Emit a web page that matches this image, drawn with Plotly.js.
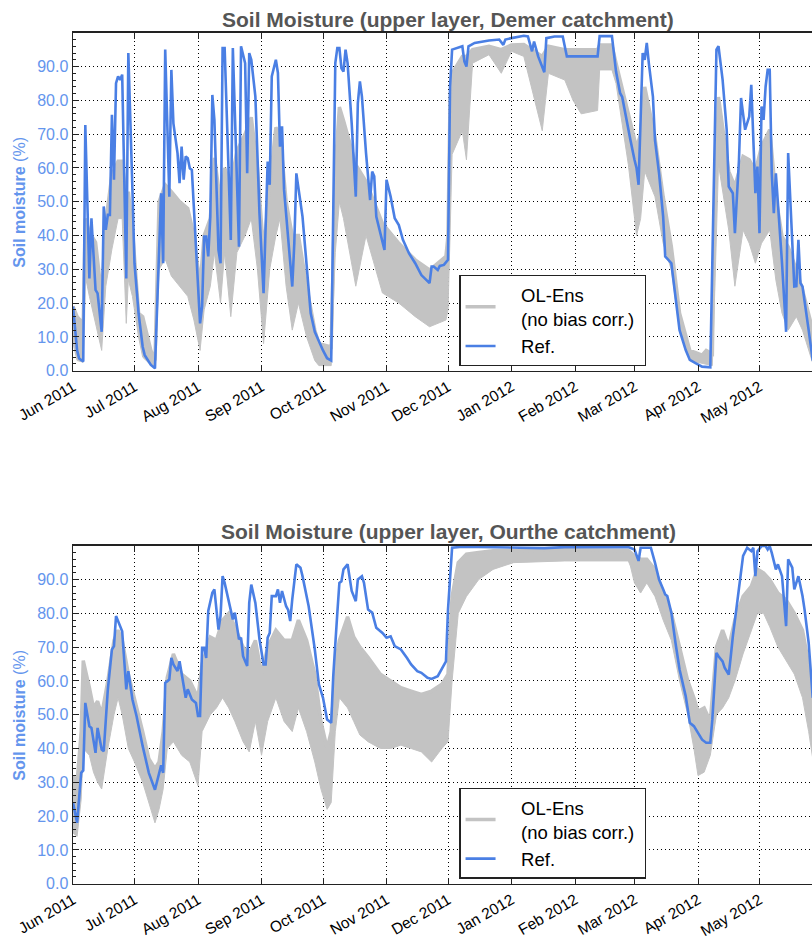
<!DOCTYPE html>
<html>
<head>
<meta charset="utf-8">
<script src="https://cdn.plot.ly/plotly-3.0.1.min.js"></script>
<style>
html, body { margin: 0; padding: 0; overflow: hidden; background: #fff; }
#chart { width: 823px; height: 938px; }
</style>
</head>
<body>
<div id="chart"></div>
<script>
// ---------- DATA (x = days since 1 Jun 2011) ----------
const monthTickDays   = [0, 30, 61, 92, 122, 153, 183, 214, 245, 274, 305, 335];
const monthTickLabels = ['Jun 2011', 'Jul 2011', 'Aug 2011', 'Sep 2011', 'Oct 2011', 'Nov 2011',
                         'Dec 2011', 'Jan 2012', 'Feb 2012', 'Mar 2012', 'Apr 2012', 'May 2012'];
const yTickVals = [0, 10, 20, 30, 40, 50, 60, 70, 80, 90];

// Demer catchment - reference
const demerRefDay = [
  0, 2, 3, 5, 6, 8, 9, 10, 11, 12, 14, 15, 16, 17, 18, 19, 20, 21, 22, 23, 24, 26, 27, 29, 30,
  32, 34, 35, 38, 40, 42, 43, 44, 45, 47, 48, 49, 51, 52, 53, 54, 55, 56, 57, 58, 59, 60,
  62, 63, 64, 65, 66, 67, 68, 69, 71, 72, 73, 74, 77, 78, 81, 82, 84, 85, 86, 87, 89, 91,
  93, 94, 95, 96, 97, 99, 100, 101, 102, 103, 105, 107, 108, 109, 112, 114, 116, 118, 120,
  122, 124, 126, 128, 129, 130, 131, 132, 133, 134, 136, 138, 139, 140, 141, 143, 145, 146,
  147, 148, 150, 152, 153, 155, 157, 159, 161, 164, 167, 170, 174, 175, 176, 178, 179, 181,
  183, 184, 185, 190, 191, 192, 193, 196, 203, 208, 210, 211, 214, 220, 222, 224, 225, 227,
  230, 231, 235, 239, 241, 256, 257, 263, 265, 267, 268, 270, 272, 274, 275, 276, 277, 278,
  279, 280, 281, 283, 284, 286, 288, 289, 292, 294, 296, 299, 301, 304, 307, 311, 314, 315,
  317, 319, 320, 322, 323, 325, 326, 328, 330, 331, 333, 334, 335, 336, 337, 338, 339, 340,
  341, 342, 343, 346, 348, 349, 352, 353, 354, 355, 356, 359, 361];
const demerRefVal = [
  19, 6, 3.6, 2.7, 72.7, 27.3, 45.1, 32.8, 23.9, 22.9, 11.5, 48.6, 41.7, 46.1, 46.1, 75.7, 56.5, 85.1, 87.1, 86.1, 87.6, 27.3, 94, 53.5, 31.8,
  17, 7.1, 4.6, 1.7, 0.7, 31.8, 52.5, 31.8, 95, 51.5, 89, 73.2, 64.4, 55.5, 66.3, 56.5, 63.4, 62.9, 59.9, 59.4, 45.6, 36.7,
  14, 19, 39.7, 39.7, 33.8, 45.6, 81.6, 74.2, 35.7, 31.8, 95.5, 95.5, 38.7, 95.5, 36.7, 96, 91, 58.4, 94, 92, 81.1, 46.6,
  22.9, 43.6, 61.9, 55, 87.1, 92, 88.1, 66.3, 72.3, 53.5, 39.7, 24.9, 37.7, 58.4, 45.6, 31.8, 17, 11.5, 8.5,
  6, 3.7, 3, 91, 95.5, 95.5, 89.5, 88.5, 95, 91, 73.2, 51.5, 79.2, 85.6, 81.1, 64.4, 50.5, 58.9,
  57.5, 45.6, 41, 35.7, 56.5, 51.5, 45.1, 43.1, 38.7, 34.7, 31.8, 28.3, 25.9, 30.8, 30.8, 29.8, 31, 31.3,
  32.8, 84.1, 95, 96, 91.5, 90, 96, 97, 97.7, 98, 96.4, 98, 98.4, 99.1, 98.9, 94.5, 97.4, 93,
  88.3, 98.4, 98.9, 98.9, 93, 93, 99, 99, 88.5, 82.1, 81, 74.2, 68.3, 62.4, 60, 55, 75.2, 94,
  92, 97, 91, 81.1, 68.3, 58.4, 45.6, 33.8, 31.8, 21.9, 12, 6.1, 3.2, 2.2, 1.2, 1, 95, 96,
  86.1, 71.3, 54.5, 52.5, 40.7, 62.4, 80.7, 71.3, 75.2, 84.6, 52.5, 60.4, 40.7, 78.2, 74.2, 84.1, 89, 89,
  58.4, 46.6, 58.4, 31.8, 11.5, 64.4, 24.9, 25, 38.7, 25.9, 24.9, 12, 3];

// Demer catchment - open-loop ensemble (upper / lower envelope of the members)
const demerEnsDay = [
  0, 2, 5, 6, 8, 11, 14, 16, 19, 22, 24, 26, 27, 29, 32, 34, 38, 40, 42, 45, 48, 52, 56, 59,
  62, 64, 67, 69, 72, 74, 77, 80, 84, 87, 90, 93, 96, 99, 101, 104, 107, 110, 114, 118, 120,
  126, 128, 130, 132, 138, 143, 151, 159, 167, 174, 182, 183, 184, 185, 190, 192, 195, 203,
  209, 214, 220, 224, 229, 232, 240, 244, 248, 256, 257, 263, 265, 271, 275, 277, 279, 284, 288,
  292, 296, 301, 307, 309, 312, 313, 315, 320, 323, 327, 330, 333, 336, 340, 343, 346, 349,
  353, 356, 361];
const demerEnsHi = [
  19, 16, 14, 45, 41, 38, 22, 44, 58, 62, 62, 50, 53, 42, 17, 16, 6, 3, 50, 55, 53, 50, 48, 40,
  25, 40, 45, 63, 50, 60, 55, 65, 70, 75, 60, 35, 55, 72, 70, 50, 40, 40, 25, 12, 8,
  7, 60, 78, 74, 61, 56, 43.6, 37.7, 32.8, 29.8, 33.8, 40, 80, 88, 93, 93, 95, 96,
  95, 96.4, 96.5, 95, 93, 96, 95, 95, 95, 95, 96.4, 96.4, 91, 76, 66, 70, 84, 69, 51.5,
  36.7, 17, 6, 4.6, 6, 5, 45, 81, 59, 54.5, 63.4, 62.4, 59, 66.3, 71.3, 51.5, 39.7, 36.7,
  29.8, 23.9, 12];
const demerEnsLo = [
  8, 3, 2.5, 28, 22, 14, 6, 25, 36, 45, 45, 14, 27, 22, 10, 4, 1.5, 0.5, 30, 33, 28, 25, 22, 15,
  6, 18, 25, 35, 20, 35, 16, 35, 40, 45, 30, 8, 30, 40, 45, 25, 12, 20, 10, 3, 1.5,
  1.5, 35, 50, 45, 25, 40, 23, 20, 16, 13, 15, 18, 40, 64, 71, 62.4, 91, 93.5,
  88, 94.5, 93, 83, 71, 88, 86, 80, 76, 77, 89, 89, 85, 61, 40, 45, 59, 51.5, 37.7,
  29.8, 12, 3, 2.2, 2, 1.5, 20, 61, 41.6, 25, 41.6, 37.7, 31.8, 37.7, 41.6, 26.8, 17, 12,
  16, 12, 2.2];

// Ourthe catchment - reference
const ourtheRefDay = [
  0, 2, 4, 5, 6, 8, 9, 11, 12, 14, 15, 17, 19, 20, 21, 23, 24, 26, 27, 29, 30, 31, 34, 37, 40,
  42, 43, 44, 45, 47, 48, 49, 51, 52, 55, 56, 58, 60, 61, 62, 63, 64, 65, 66, 68, 69, 71, 72,
  73, 74, 77, 78, 79, 81, 82, 83, 85, 86, 87, 89, 91, 93, 94, 95, 96, 97, 99, 100, 101, 102,
  104, 105, 106, 107, 109, 111, 112, 115, 118, 120, 122, 124, 126, 127, 129, 130, 131, 132,
  134, 135, 136, 138, 139, 141, 142, 144, 146, 148, 151, 153, 155, 157, 160, 163, 165, 168,
  170, 173, 175, 178, 181, 182, 183, 185, 190, 230, 240, 271, 274, 276, 277, 282, 284, 286,
  288, 289, 290, 292, 294, 296, 299, 301, 303, 305, 307, 309, 311, 312, 314, 315, 317, 318,
  320, 321, 322, 324, 326, 327, 329, 331, 332, 333, 334, 336, 338, 339, 340, 341, 343, 344,
  346, 348, 349, 351, 352, 354, 356, 357, 359, 361];
const ourtheRefVal = [
  24, 18, 32.8, 33.5, 53.5, 46.6, 46.1, 38.7, 46.1, 39.7, 39.2, 57.5, 69.3, 70.3, 79.2, 76.2, 74.7, 57.5, 62.9, 54.5, 51.5, 49.6, 40.7, 32.8, 27.8,
  32.8, 35, 32.8, 59.4, 60.4, 66.8, 64.9, 62.9, 65.8, 55, 57.5, 54.5, 53.5, 49.6, 49.6, 69.8, 69.8, 66.8, 80.7, 86.1, 87.1, 75.2, 79.2,
  91, 89, 80.2, 78.2, 80.2, 72.3, 72.8, 67.3, 64.4, 83.1, 88.5, 83.1, 72.3, 64.9, 64.9, 72.8, 74.2, 85.1, 85.1, 87.1, 83.1, 86.6,
  82.1, 81, 77.7, 84.1, 94.5, 93.5, 91, 82.1, 69.3, 59, 55, 48.6, 47.6, 61.4, 80.2, 89, 89.5, 93,
  94.5, 91, 86.6, 83.6, 90, 91, 89, 81.1, 80.2, 75.7, 74.2, 72.8, 73.2, 70.3, 69.3, 66.8, 64.9, 62.9,
  62.4, 60.9, 60.6, 61.4, 64.4, 65.8, 81.1, 99.4, 99.7, 99.3, 99.6, 99.6, 98.9, 95.5, 99.4, 99.4, 95, 90,
  87.1, 85.6, 85.1, 80.2, 71.3, 63.4, 55.5, 47.6, 46.6, 44.6, 42.6, 41.7, 41.7, 48.6, 68.3, 67.3, 65.8, 63.9,
  61.9, 67.3, 73.2, 82.6, 93, 97, 99.4, 98.4, 99.4, 91, 98.4, 99.9, 99.9, 98.9, 99.9, 97.9, 93, 94.5,
  91, 76.2, 96, 93.5, 87.1, 91, 85.1, 81.1, 71.3, 55];

// Ourthe catchment - open-loop ensemble (upper / lower envelope of the members)
const ourtheEnsDay = [
  0, 2, 4, 5, 8, 10, 12, 14, 17, 20, 22, 24, 27, 30, 34, 37, 40, 42, 44, 46, 49, 53, 57, 61,
  63, 67, 70, 73, 76, 79, 83, 86, 89, 92, 95, 99, 103, 107, 110, 114, 118, 121, 124, 126,
  128, 130, 134, 137, 140, 144, 150, 155, 160, 165, 170, 175, 180, 183, 185, 188, 192, 198,
  205, 215, 240, 271, 272, 274, 277, 280, 284, 288, 292, 296, 300, 303, 305, 308, 311, 314,
  317, 320, 323, 327, 331, 334, 337, 340, 344, 348, 352, 356, 359, 361];
const ourtheEnsHi = [
  32, 30, 45, 66, 58, 52, 54, 50, 60, 72, 75, 72, 62, 55, 45, 37, 34, 36, 45, 61, 68, 62, 60, 55,
  65, 73, 72, 78, 80, 76, 70, 68, 72, 62, 70, 75, 72, 72, 78, 72, 62, 48, 40, 45,
  65, 72, 79, 73, 70, 67, 62, 60, 58, 57, 56, 57, 59, 62, 85, 95, 97.5, 98,
  98.5, 98.5, 98.8, 98.6, 98, 97, 96, 96, 93, 86, 80, 70, 60, 55, 51, 52, 48, 70,
  75, 70, 78, 85, 88, 93, 92, 90, 86, 84, 80, 75, 65, 55];
const ourtheEnsLo = [
  15, 14, 25, 40, 38, 33, 30, 28, 40, 50, 55, 50, 40, 36, 30, 24, 18, 22, 28, 40, 42, 38, 36, 29,
  45, 50, 52, 55, 52, 48, 42, 39, 48, 38, 48, 55, 48, 45, 52, 45, 36, 28, 22, 24,
  45, 55, 52, 48, 44, 42, 40, 40, 41, 40, 39, 36, 40, 42, 60, 80, 85, 90,
  93, 95, 95.5, 95.5, 94, 89, 86, 89, 85, 78, 72, 60, 50, 40, 32, 33, 38, 50,
  52, 55, 60, 68, 75, 80, 80, 76, 70, 66, 62, 55, 45, 37];

// ---------- STYLE ----------
const FONT = 'Liberation Sans, Arial, Helvetica, sans-serif';
const LABEL_BLUE = '#6495ed';
const REF_BLUE = '#4a7fe4';
const ENS_GRAY = '#c3c3c3';
const FRAME = '#222';
const PAD = '\u00a0\u00a0\u00a0\u00a0';
const ENS_NAME = PAD + 'OL-Ens<br>' + PAD + '(no bias corr.)\u00a0';
const REF_NAME = PAD + 'Ref.';

function xAxis(anchor) {
  return {
    domain: [0, 1], anchor: anchor, range: [0, 366],
    tickmode: 'array', tickvals: monthTickDays, ticktext: monthTickLabels,
    tickangle: -30, tickfont: { family: FONT, size: 15.5, color: '#000' },
    ticks: 'inside', ticklen: 6, tickwidth: 1, tickcolor: FRAME,
    showline: true, linecolor: FRAME, linewidth: 1.5, mirror: 'ticks',
    showgrid: true, gridcolor: '#000', gridwidth: 1, griddash: '1px,3px',
    zeroline: false, fixedrange: true
  };
}
function yAxis(anchor, domain) {
  return {
    domain: domain, anchor: anchor, range: [0, 100],
    tickmode: 'array', tickvals: yTickVals, tickformat: '.1f',
    tickfont: { family: FONT, size: 16, color: LABEL_BLUE },
    ticks: 'inside', ticklen: 6, tickwidth: 1, tickcolor: FRAME,
    minor: { tickmode: 'linear', tick0: 0, dtick: 2, ticks: 'inside', ticklen: 3, tickcolor: FRAME, showgrid: false },
    showline: true, linecolor: FRAME, linewidth: 1.5, mirror: 'ticks',
    showgrid: true, gridcolor: '#000', gridwidth: 1, griddash: '1px,3px',
    zeroline: false, fixedrange: true
  };
}
function legendBox(yTop) {
  return {
    x: 0.515, y: yTop, xanchor: 'left', yanchor: 'top',
    bgcolor: '#fff', bordercolor: FRAME, borderwidth: 1.3,
    font: { family: FONT, size: 18.5, color: '#000' },
    valign: 'middle', tracegroupgap: 0, itemwidth: 30, traceorder: 'normal'
  };
}

function panelTraces(xa, ya, leg, ensDay, ensHi, ensLo, refDay, refVal) {
  return [
    { x: ensDay, y: ensHi, xaxis: xa, yaxis: ya, mode: 'lines', name: ENS_NAME, legend: leg,
      line: { color: ENS_GRAY, width: 3.5 }, hoverinfo: 'skip' },
    { x: ensDay, y: ensLo, xaxis: xa, yaxis: ya, mode: 'lines', showlegend: false, legend: leg,
      line: { color: ENS_GRAY, width: 1 }, fill: 'tonexty', fillcolor: ENS_GRAY, hoverinfo: 'skip' },
    { x: refDay, y: refVal, xaxis: xa, yaxis: ya, mode: 'lines', name: REF_NAME, legend: leg,
      line: { color: REF_BLUE, width: 2.6 }, hoverinfo: 'skip' }
  ];
}

const data = [].concat(
  panelTraces('x', 'y', 'legend', demerEnsDay, demerEnsHi, demerEnsLo, demerRefDay, demerRefVal),
  panelTraces('x2', 'y2', 'legend2', ourtheEnsDay, ourtheEnsHi, ourtheEnsLo, ourtheRefDay, ourtheRefVal)
);

const topDom = [0.6048, 0.9651];
const botDom = [0.0579, 0.4182];

function ann(text, x, y, size, color, angle) {
  return { text: text, x: x, y: y, xref: 'paper', yref: 'paper', xanchor: 'center', yanchor: 'middle',
           showarrow: false, textangle: angle || 0, font: { family: FONT, size: size, color: color } };
}

const layout = {
  width: 823, height: 938,
  margin: { l: 73, r: 0, t: 0, b: 0 },
  paper_bgcolor: '#fff', plot_bgcolor: '#fff',
  font: { family: FONT },
  showlegend: true,
  xaxis: xAxis('y'),
  yaxis: yAxis('x', topDom),
  xaxis2: xAxis('y2'),
  yaxis2: yAxis('x2', botDom),
  legend: legendBox(0.7068),
  legend2: legendBox(0.1602),
  annotations: [
    ann('<b>Soil Moisture (upper layer, Demer catchment)</b>', 0.5, 0.9797, 21, '#555'),
    ann('<b>Soil Moisture (upper layer, Ourthe catchment)</b>', 0.5, 0.4334, 21, '#555'),
    ann('<b>Soil moisture</b> (%)', -0.0707, (topDom[0] + topDom[1]) / 2, 16, LABEL_BLUE, -90),
    ann('<b>Soil moisture</b> (%)', -0.0707, (botDom[0] + botDom[1]) / 2, 16, LABEL_BLUE, -90)
  ]
};

Plotly.newPlot('chart', data, layout, { displayModeBar: false, staticPlot: true });
</script>
</body>
</html>
